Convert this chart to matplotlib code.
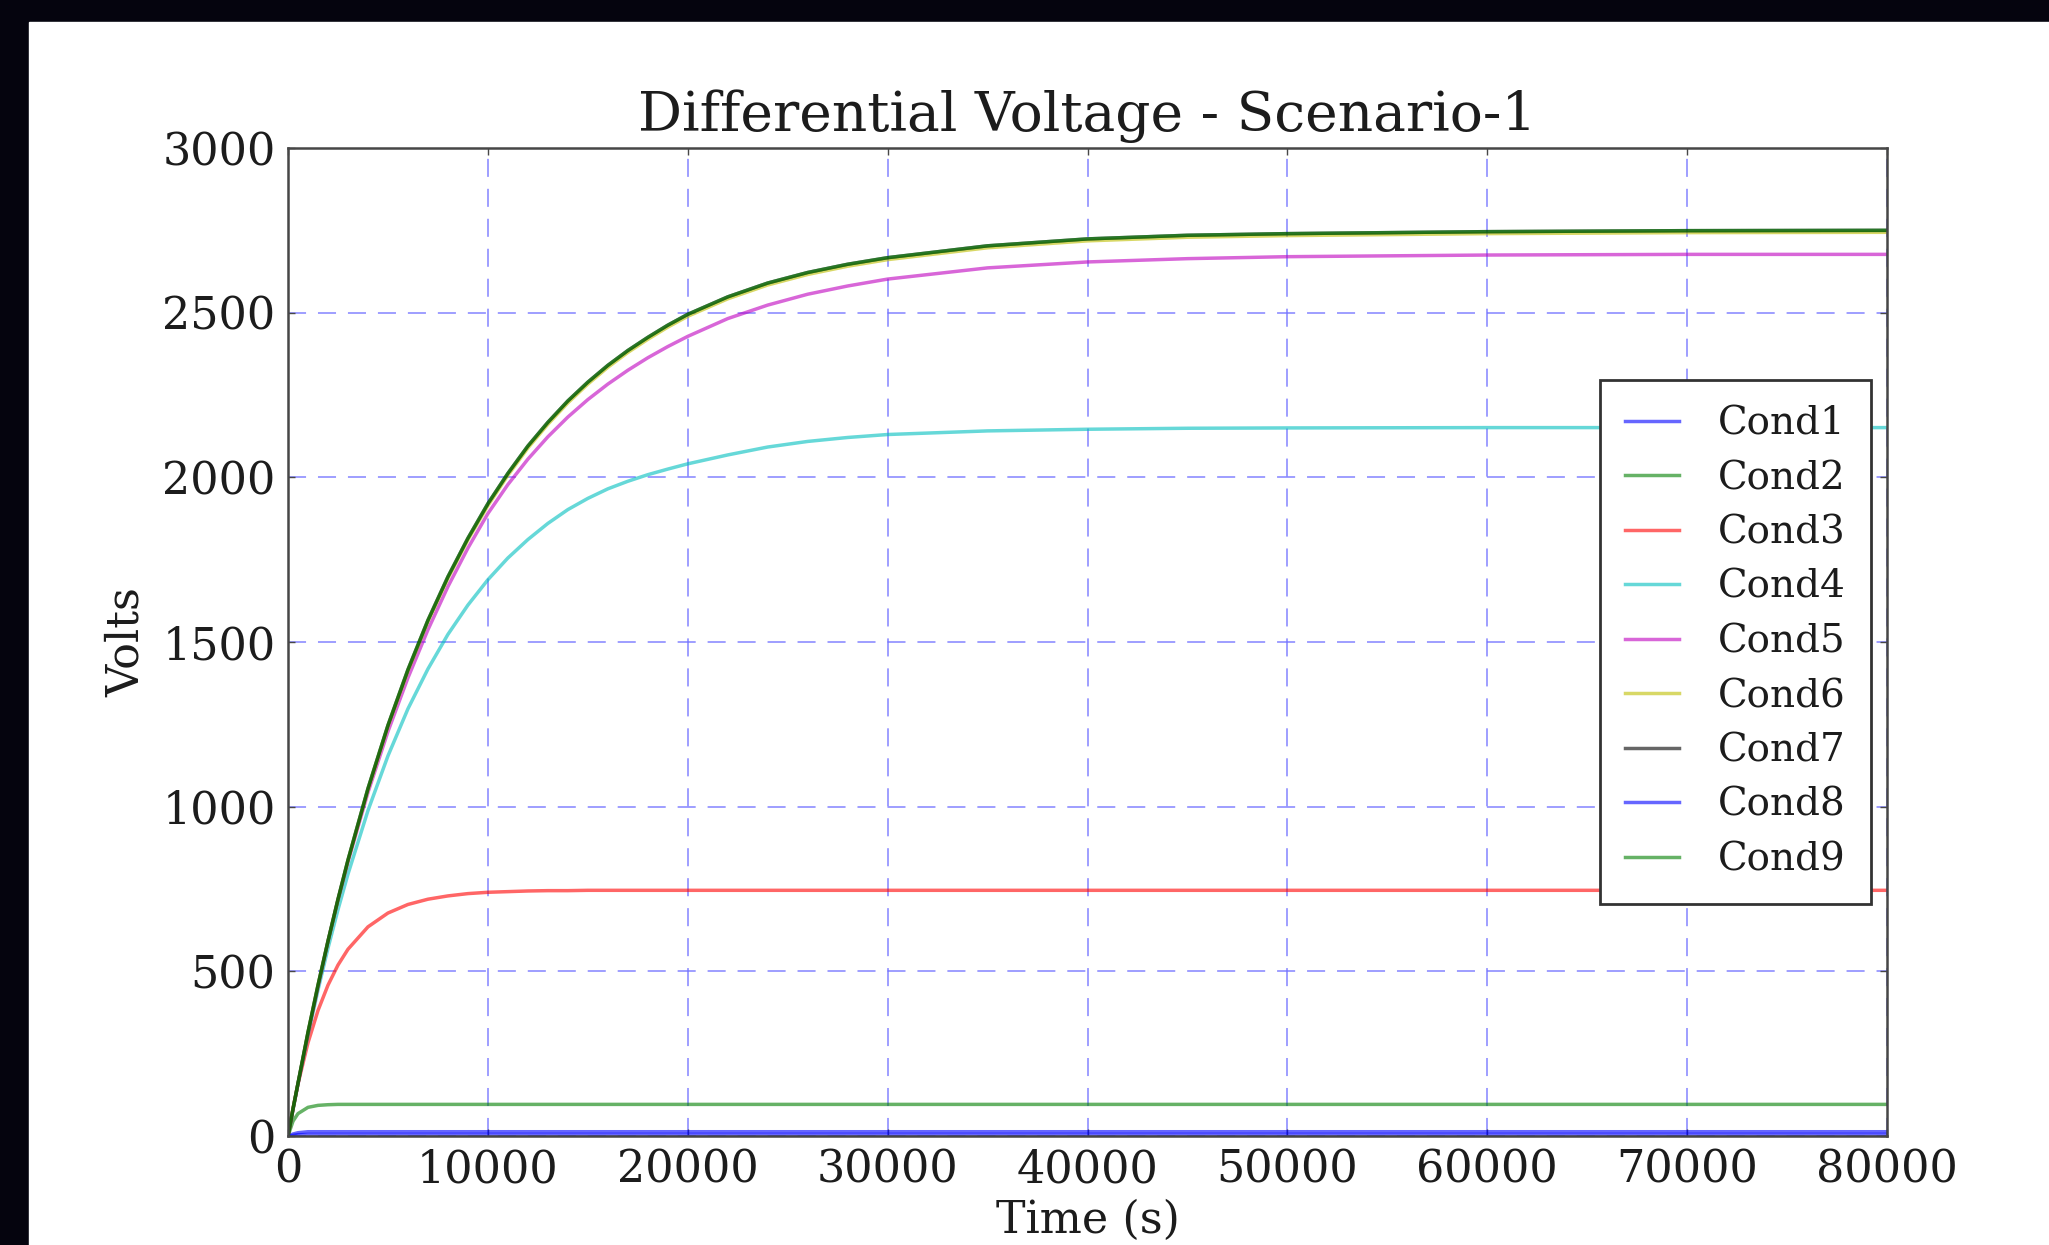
import matplotlib
matplotlib.use('Agg')
import matplotlib.pyplot as plt
from matplotlib.patches import Rectangle

# time axis (s)
t = [0, 250, 500, 1000, 1500, 2000, 2500, 3000,
     4000, 5000, 6000, 7000, 8000, 9000, 10000, 11000, 12000, 13000, 14000,
     15000, 16000, 17000, 18000, 19000, 20000,
     22000, 24000, 26000, 28000, 30000,
     35000, 40000, 45000, 50000,
     60000, 70000, 80000]

# differential voltage per conductor (V)
cond1 = [0, 6, 10, 13, 13, 13, 13, 13,
         13, 13, 13, 13, 13, 13, 13, 13, 13, 13, 13,
         13, 13, 13, 13, 13, 13,
         13, 13, 13, 13, 13,
         13, 13, 13, 13,
         13, 13, 13]
cond2 = [0, 45, 68, 87, 93, 95, 96, 96,
         96, 96, 96, 96, 96, 96, 96, 96, 96, 96, 96,
         96, 96, 96, 96, 96, 96,
         96, 96, 96, 96, 96,
         96, 96, 96, 96,
         96, 96, 96]
cond3 = [0, 84, 158, 283, 381, 458, 519, 567,
         635, 677, 703, 719, 729, 736, 740, 742, 744, 745, 745,
         746, 746, 746, 746, 746, 746,
         746, 746, 746, 746, 746,
         746, 746, 746, 746,
         746, 746, 746]
cond4 = [0, 81, 159, 307, 443, 570, 687, 795,
         988, 1154, 1297, 1418, 1523, 1612, 1689, 1755, 1811, 1860, 1902,
         1936, 1965, 1988, 2008, 2025, 2041,
         2068, 2092, 2109, 2121, 2130,
         2141, 2146, 2149, 2150,
         2151, 2151, 2151]
cond5 = [0, 80, 158, 310, 452, 590, 716, 832,
         1043, 1228, 1391, 1537, 1668, 1785, 1890, 1978, 2055, 2123, 2183,
         2236, 2283, 2325, 2363, 2397, 2428,
         2482, 2523, 2556, 2581, 2602,
         2636, 2654, 2664, 2670,
         2675, 2677, 2677]
cond6 = [0, 82, 160, 314, 457, 591, 717, 836,
         1052, 1244, 1412, 1562, 1693, 1810, 1914, 2006, 2089, 2161, 2226,
         2283, 2334, 2379, 2419, 2456, 2489,
         2542, 2584, 2616, 2641, 2661,
         2697, 2718, 2729, 2734,
         2740, 2743, 2744]
cond7 = [0, 82, 160, 315, 458, 592, 719, 838,
         1055, 1247, 1416, 1566, 1698, 1815, 1920, 2012, 2095, 2167, 2232,
         2289, 2340, 2385, 2425, 2462, 2495,
         2548, 2590, 2622, 2647, 2667,
         2703, 2724, 2735, 2740,
         2746, 2749, 2750]
cond8 = [0, 2, 4, 5, 5, 5, 5, 5,
         5, 5, 5, 5, 5, 5, 5, 5, 5, 5, 5,
         5, 5, 5, 5, 5, 5,
         5, 5, 5, 5, 5,
         5, 5, 5, 5,
         5, 5, 5]
cond9 = [0, 82, 160, 315, 458, 592, 719, 838,
         1055, 1247, 1416, 1566, 1698, 1815, 1920, 2012, 2095, 2167, 2232,
         2289, 2340, 2385, 2425, 2462, 2495,
         2548, 2590, 2622, 2647, 2667,
         2703, 2724, 2735, 2740,
         2746, 2749, 2750]

series = [cond1, cond2, cond3, cond4, cond5, cond6, cond7, cond8, cond9]
labels = ['Cond1', 'Cond2', 'Cond3', 'Cond4', 'Cond5', 'Cond6', 'Cond7', 'Cond8', 'Cond9']
colors = ['b', 'g', 'r', 'c', 'm', 'y', 'k', 'b', 'g']

plt.rcParams['font.family'] = 'DejaVu Serif'
text_col = '#1c1c1c'

fig = plt.figure(figsize=(20.49, 12.45), dpi=100, facecolor='#05040e')
# white page inside the dark screen border
fig.add_artist(Rectangle((29 / 2049, 0), 1, (1245 - 22) / 1245,
                         transform=fig.transFigure, color='white', zorder=-1))

ax = fig.add_axes([288 / 2049, 109 / 1245, 1599 / 2049, 988 / 1245])
ax.set_facecolor('white')

for y, lab, c in zip(series, labels, colors):
    ax.plot(t, y, color=c, alpha=0.6, lw=2.5, label=lab)

ax.set_xlim(0, 80000)
ax.set_ylim(0, 3000)
ax.set_xticks(range(0, 80001, 10000))
ax.set_yticks(range(0, 3001, 500))

ax.grid(True, color=(0.45, 0.45, 1.0), alpha=0.75, lw=1.3, linestyle=(0, (10, 6.6)))

for s in ax.spines.values():
    s.set_color('#474747')
    s.set_linewidth(1.8)
ax.tick_params(direction='in', top=True, right=True, length=5, width=1,
               colors='#474747', labelcolor=text_col, labelsize=32, pad=9)

ax.set_title('Differential Voltage - Scenario-1', fontsize=39.6, color=text_col, pad=12)
ax.set_xlabel('Time (s)', fontsize=32, color=text_col, labelpad=5)
ax.set_ylabel('Volts', fontsize=32, color=text_col, labelpad=10)

leg = ax.legend(loc='center right', fontsize=28, fancybox=False, framealpha=1,
                edgecolor='#333333', handlelength=1.4, handletextpad=1.0,
                labelspacing=0.45, borderpad=0.65, borderaxespad=0.4)
leg.get_frame().set_linewidth(2)
for txt in leg.get_texts():
    txt.set_color(text_col)

fig.savefig('out.png', dpi=100, facecolor=fig.get_facecolor())
